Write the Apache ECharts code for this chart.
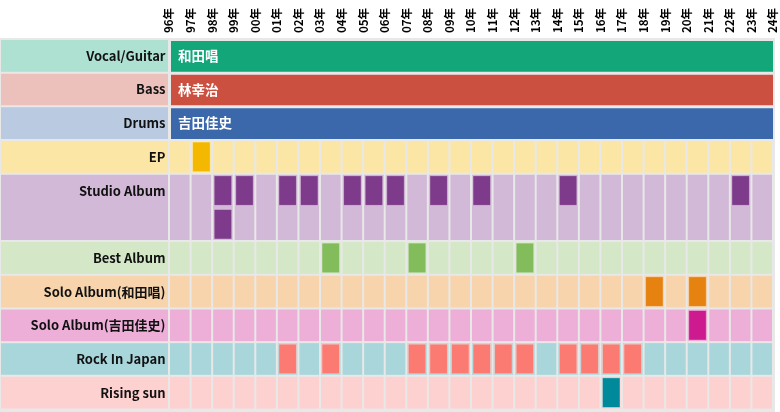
<!DOCTYPE html>
<html><head><meta charset="utf-8">
<script src="https://cdn.jsdelivr.net/npm/echarts/dist/echarts.min.js"></script>
<style>html,body{margin:0;padding:0;background:#fff}#c{width:780px;height:412px}</style>
</head><body><div id="c"></div>
<script>
// ---- data ----
const rowNames = ['Vocal/Guitar','Bass','Drums','EP','Studio Album','Best Album','Solo Album(和田唱)','Solo Album(吉田佳史)','Rock In Japan','Rising sun'];
const rowSpans = [1,1,1,1,2,1,1,1,1,1];
const members = ['和田唱','林幸治','吉田佳史'];
const memberFrom = [1996,1996,1996];
const memberTo = [2024,2024,2024];
const epYears = [1997];
const studioAlbumYears = [1998,1998,1999,2001,2002,2004,2005,2006,2008,2010,2014,2022];
const bestAlbumYears = [2003,2007,2012];
const soloWadaYears = [2018,2020];
const soloYoshidaYears = [2020];
const rockInJapanYears = [2001,2003,2007,2008,2009,2010,2011,2012,2014,2015,2016,2017];
const risingSunYears = [2016];
const yearMin = 1996, yearMax = 2024;

// ---- styles ----
const rowBg = ['#aee1d2','#ecc1bc','#b9cae1','#fbe6a6','#d2b9d7','#d4e7c7','#f7d4ab','#edafd8','#a8d6da','#fdd1cf'];
const markColor = ['#13a679','#cc5040','#3b68ab','#f4b800','#7f3b8b','#83bc5b','#e6820f','#cd1a8f','#fb7b72','#00899a'];
const gapColor = '#e8e8e8';
const FONT = '"Noto Sans CJK JP","Noto Sans",sans-serif';

const rowStart = [];
let acc = 0;
rowSpans.forEach((s,i)=>{ rowStart.push(acc); acc += s; });
const totalUnits = acc;

const eventRows = [[3,epYears],[4,studioAlbumYears],[5,bestAlbumYears],[6,soloWadaYears],[7,soloYoshidaYears],[8,rockInJapanYears],[9,risingSunYears]];
const eventData = [];
eventRows.forEach(([r, ys])=>{
  const cnt = {};
  ys.forEach(y=>{ cnt[y] = (cnt[y]||0); eventData.push([y, r, cnt[y]]); cnt[y]++; });
});

const cellData = [];
for (let r = 3; r < rowNames.length; r++) {
  for (let y = yearMin; y < yearMax; y++) cellData.push([y, r]);
}
const memberData = members.map((m,i)=>[memberFrom[i], memberTo[i], i, m]);
const labelData = rowNames.map((n,i)=>[i, n]);

const chart = echarts.init(document.getElementById('c'), null, {renderer:'canvas'});
chart.setOption({
  backgroundColor:'#fff',
  animation:false,
  graphic:[{type:'rect', left:0, top:38, shape:{width:775, height:374}, style:{fill:gapColor}, z:-10}],
  grid:[
    {left:0, width:169, top:39, bottom:2.5},
    {left:169, right:7, top:39, bottom:2.5}
  ],
  xAxis:[
    {gridIndex:0, type:'value', min:0, max:1, show:false},
    {gridIndex:1, type:'value', position:'top', min:yearMin, max:yearMax, interval:1,
      axisLine:{show:false}, axisTick:{show:false}, splitLine:{show:false},
      axisLabel:{rotate:90, margin:6, fontSize:11.5, fontWeight:'bold', color:'#000', fontFamily:FONT,
        padding:[0,0,7,0],
        formatter:v=>String(v).slice(2)+'年'}}
  ],
  yAxis:[
    {gridIndex:0, type:'value', min:0, max:totalUnits, inverse:true, show:false},
    {gridIndex:1, type:'value', min:0, max:totalUnits, inverse:true, show:false}
  ],
  series:[
    {type:'custom', name:'labels', xAxisIndex:0, yAxisIndex:0, data:labelData, clip:false,
      renderItem:(params, api)=>{
        const r = api.value(0);
        const p0 = api.coord([0, rowStart[r]]);
        const p1 = api.coord([1, rowStart[r]+rowSpans[r]]);
        const pm = api.coord([1, rowStart[r]+0.5]);
        return {type:'group', children:[
          {type:'rect', shape:{x:p0[0]+1, y:p0[1]+1, width:p1[0]-p0[0]-2, height:p1[1]-p0[1]-2}, style:{fill:rowBg[r]}},
          {type:'text', x:pm[0]-3.5, y:pm[1], style:{text:rowNames[r], align:'right', verticalAlign:'middle',
            fill:'#111', font:'bold 13px '+FONT}}
        ]};
      }},
    {type:'custom', name:'cells', xAxisIndex:1, yAxisIndex:1, data:cellData,
      renderItem:(params, api)=>{
        const y = api.value(0), r = api.value(1);
        const p0 = api.coord([y, rowStart[r]]);
        const p1 = api.coord([y+1, rowStart[r]+rowSpans[r]]);
        return {type:'rect', shape:{x:p0[0]+1, y:p0[1]+1, width:p1[0]-p0[0]-2, height:p1[1]-p0[1]-2}, style:{fill:rowBg[r]}};
      }},
    {type:'custom', name:'members', xAxisIndex:1, yAxisIndex:1, data:memberData,
      renderItem:(params, api)=>{
        const a = api.value(0), b = api.value(1), r = api.value(2);
        const p0 = api.coord([a, rowStart[r]]);
        const p1 = api.coord([b, rowStart[r]+1]);
        return {type:'group', children:[
          {type:'rect', shape:{x:p0[0]+2, y:p0[1]+2, width:p1[0]-p0[0]-2, height:p1[1]-p0[1]-3}, style:{fill:markColor[r]}},
          {type:'text', x:p0[0]+9, y:(p0[1]+p1[1])/2, style:{text:members[r], align:'left', verticalAlign:'middle',
            fill:'#fff', font:'bold 13.5px '+FONT}}
        ]};
      }},
    {type:'custom', name:'events', xAxisIndex:1, yAxisIndex:1, data:eventData,
      renderItem:(params, api)=>{
        const y = api.value(0), r = api.value(1), slot = api.value(2);
        const top = rowStart[r] + slot;
        const p0 = api.coord([y, top]);
        const p1 = api.coord([y+1, top+1]);
        return {type:'rect', shape:{x:p0[0]+2, y:p0[1]+2, width:p1[0]-p0[0]-4, height:p1[1]-p0[1]-4},
          style:{fill:markColor[r], stroke:'rgba(255,255,255,0.35)', lineWidth:1}};
      }}
  ]
});
</script></body></html>
